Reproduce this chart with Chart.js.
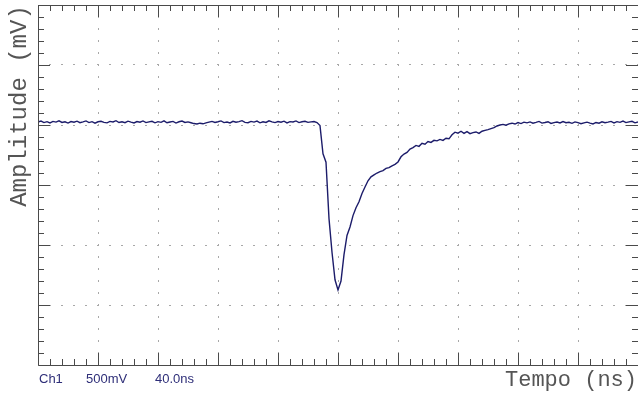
<!DOCTYPE html>
<html>
<head>
<meta charset="utf-8">
<script src="https://cdn.jsdelivr.net/npm/chart.js@4/dist/chart.umd.min.js"></script>
<style>
  html, body { margin: 0; padding: 0; background: #fff; }
  #wrap { width: 638px; height: 397px; position: relative; }
</style>
</head>
<body>
<div id="wrap"><canvas id="scope"></canvas></div>
<script>
// trace sampled every 2 ns, amplitude in mV (Ch1, 500 mV/div, 40 ns/div)
const sampleStepNs = 2;
const amplitudeMv = [
  25, 33, 20, 28, 17, 30, 24, 35, 21, 27,
  16, 29, 23, 32, 19, 26, 34, 20, 28, 15,
  27, 31, 22, 18, 30, 25, 36, 21, 27, 19,
  32, 24, 17, 29, 23, 34, 20, 26, 31, 18,
  28, 22, 35, 19, 25, 30, 16, 27, 33, 21,
  26, 19, 12, 8, 15, 10, 18, 24, 30, 21,
  27, 34, 20, 25, 17, 31, 23, 28, 36, 22,
  19, 30, 24, 33, 18, 27, 21, 35, 26, 20,
  29, 23, 32, 17, 28, 25, 34, 20, 27, 31,
  22, 26, 29,
  20, -5, -240, -310, -780, -1060, -1290, -1375, -1300, -1080,
  -920, -850, -755, -690, -640, -570, -517, -465, -432, -415,
  -400, -388, -380, -362, -355, -340, -328, -308, -265, -242,
  -228, -200, -188, -170, -178, -152, -160, -138, -145, -128,
  -132, -120, -128, -110, -115, -82, -60, -68, -52, -70,
  -55, -72, -64, -58, -70, -52, -45, -38, -30, -22,
  -8, 0, 5, -2, 10, 15, 8, 20,
  12, 24, 18, 26, 15, 22, 30, 16, 21, 27,
  13, 20, 25, 17, 29, 19, 23, 14, 26, 20,
  11, 18, 24, 16, 9, 21, 15, 27, 19, 24,
  30, 17, 28, 22, 33, 20, 26, 31, 18, 25
];
const timeNs = amplitudeMv.map((_, i) => i * sampleStepNs);

// screen divisions
const xRange = [0, 400];
const xDiv = 40;
const yRange = [-2000, 1000];
const yDiv = 500;
const minorPerDiv = 5;

const readout = ['Ch1', '500mV', '40.0ns'];
const xTitle = 'Tempo (ns)';
const yTitle = 'Amplitude (mV)';

const frameColor = '#4a4a4a';
const gridColor = '#a8a8a8';
const traceColor = '#1c1c6a';

// frame, minor ticks and labels drawn on top of the plot
const scopeFrame = {
    id: 'scopeFrame',
    afterDraw: function(chart) {
        const ctx = chart.ctx;
        const area = chart.chartArea;
        const xs = chart.scales.x;
        const ys = chart.scales.y;

        ctx.save();
        ctx.strokeStyle = frameColor;
        ctx.lineWidth = 1;
        ctx.beginPath();
        ctx.moveTo(area.left + 0.5, area.top + 0.5);
        ctx.lineTo(area.right, area.top + 0.5);
        ctx.moveTo(area.left + 0.5, area.top);
        ctx.lineTo(area.left + 0.5, area.bottom + 0.5);
        ctx.lineTo(area.right, area.bottom + 0.5);
        ctx.stroke();

        // ticks along top and bottom
        const xMinor = xDiv / minorPerDiv;
        ctx.beginPath();
        for (let v = xRange[0] + xMinor, k = 1; v < xRange[1]; v += xMinor, k++) {
            const px = Math.round(xs.getPixelForValue(v)) + 0.5;
            const len = (k % minorPerDiv === 0) ? 12 : 6;
            ctx.moveTo(px, area.top);
            ctx.lineTo(px, area.top + len);
            ctx.moveTo(px, area.bottom);
            ctx.lineTo(px, area.bottom - len);
        }
        // ticks along left and right
        const yMinor = yDiv / minorPerDiv;
        for (let v = yRange[0] + yMinor, k = 1; v < yRange[1]; v += yMinor, k++) {
            const py = Math.round(ys.getPixelForValue(v)) + 0.5;
            const len = (k % minorPerDiv === 0) ? 12 : 6;
            ctx.moveTo(area.left, py);
            ctx.lineTo(area.left + len, py);
            ctx.moveTo(area.right, py);
            ctx.lineTo(area.right - len, py);
        }
        ctx.stroke();

        // channel readout
        ctx.fillStyle = '#2e2e78';
        ctx.font = '13px "Liberation Sans", Arial, sans-serif';
        ctx.textBaseline = 'alphabetic';
        ctx.textAlign = 'left';
        ctx.fillText(readout[0], 39, 383);
        ctx.fillText(readout[1], 86, 383);
        ctx.fillText(readout[2], 155, 383);

        // axis titles
        ctx.fillStyle = '#555555';
        ctx.font = '22px "Liberation Mono", "DejaVu Sans Mono", monospace';
        ctx.textAlign = 'right';
        ctx.fillText(xTitle, 637, 386);

        ctx.translate(26, 106);
        ctx.rotate(-Math.PI / 2);
        ctx.textAlign = 'center';
        ctx.font = '24px "Liberation Mono", "DejaVu Sans Mono", monospace';
        ctx.fillText(yTitle, 0, 0);
        ctx.restore();
    }
};

document.addEventListener('DOMContentLoaded', function() {
    const canvas = document.getElementById('scope');
    const ctx = canvas.getContext('2d');

    new Chart(ctx, {
        type: 'line',
        data: {
            datasets: [{
                data: timeNs.map((t, i) => ({ x: t, y: amplitudeMv[i] })),
                borderColor: traceColor,
                borderWidth: 1.4,
                pointRadius: 0,
                tension: 0,
                fill: false
            }]
        },
        options: {
            responsive: true,
            maintainAspectRatio: false,
            animation: false,
            events: [],
            layout: { padding: { left: 38, top: 5, right: 0, bottom: 32 } },
            plugins: {
                legend: { display: false },
                tooltip: { enabled: false }
            },
            scales: {
                x: {
                    type: 'linear',
                    min: xRange[0],
                    max: xRange[1],
                    ticks: { display: false, stepSize: xDiv },
                    grid: { color: gridColor, drawTicks: false },
                    border: { display: false, dash: [2, 10], dashOffset: 1 }
                },
                y: {
                    min: yRange[0],
                    max: yRange[1],
                    ticks: { display: false, stepSize: yDiv },
                    grid: { color: gridColor, drawTicks: false },
                    border: { display: false, dash: [2, 10], dashOffset: 1 }
                }
            }
        },
        plugins: [scopeFrame]
    });
});
</script>
</body>
</html>
